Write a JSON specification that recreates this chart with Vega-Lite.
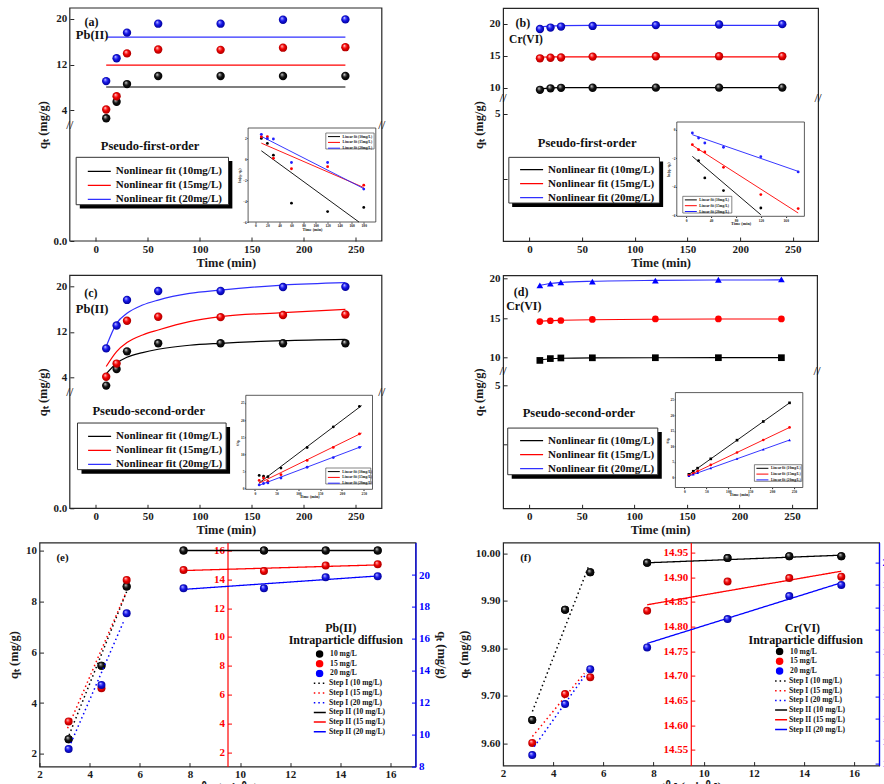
{
  "$schema": "https://vega.github.io/schema/vega-lite/v6.json",
  "background": "white",
  "padding": {"left": 6.5, "top": 7, "right": 0, "bottom": 0},
  "config": {
    "view": {"stroke": "#262626", "strokeWidth": 1.2},
    "font": "Liberation Serif",
    "axis": {"labelFont": "Liberation Serif", "labelFontWeight": "bold", "labelFontSize": 11, "labelColor": "#1a1a1a", "titleFont": "Liberation Serif", "titleFontWeight": "bold", "titleFontSize": 12.5, "titleColor": "#1a1a1a", "tickColor": "#262626", "grid": false, "labelFlush": false, "labelOverlap": false},
    "legend": {"labelFont": "Liberation Serif", "labelFontWeight": "bold", "labelColor": "#111111", "labelLimit": 0},
    "text": {"font": "Liberation Serif", "fontWeight": "bold", "color": "#111111"}
  },
  "datasets": {
    "kin": [
      {"m": "Pb", "c": "10", "t": 10, "r": 3.162, "q": 2.58}, {"m": "Pb", "c": "10", "t": 20, "r": 4.472, "q": 5.47}, {"m": "Pb", "c": "10", "t": 30, "r": 5.477, "q": 8.58}, {"m": "Pb", "c": "10", "t": 60, "r": 7.746, "q": 10.0}, {"m": "Pb", "c": "10", "t": 120, "r": 10.954, "q": 10.0}, {"m": "Pb", "c": "10", "t": 180, "r": 13.416, "q": 10.0}, {"m": "Pb", "c": "10", "t": 240, "r": 15.492, "q": 10.0},
      {"m": "Pb", "c": "15", "t": 10, "r": 3.162, "q": 4.13}, {"m": "Pb", "c": "15", "t": 20, "r": 4.472, "q": 6.44}, {"m": "Pb", "c": "15", "t": 30, "r": 5.477, "q": 13.96}, {"m": "Pb", "c": "15", "t": 60, "r": 7.746, "q": 14.65}, {"m": "Pb", "c": "15", "t": 120, "r": 10.954, "q": 14.58}, {"m": "Pb", "c": "15", "t": 180, "r": 13.416, "q": 14.96}, {"m": "Pb", "c": "15", "t": 240, "r": 15.492, "q": 15.05},
      {"m": "Pb", "c": "20", "t": 10, "r": 3.162, "q": 9.1}, {"m": "Pb", "c": "20", "t": 20, "r": 4.472, "q": 13.11}, {"m": "Pb", "c": "20", "t": 30, "r": 5.477, "q": 17.6}, {"m": "Pb", "c": "20", "t": 60, "r": 7.746, "q": 19.17}, {"m": "Pb", "c": "20", "t": 120, "r": 10.954, "q": 19.17}, {"m": "Pb", "c": "20", "t": 180, "r": 13.416, "q": 19.86}, {"m": "Pb", "c": "20", "t": 240, "r": 15.492, "q": 19.92},
      {"m": "Cr", "c": "10", "t": 10, "r": 3.162, "q": 9.649}, {"m": "Cr", "c": "10", "t": 20, "r": 4.472, "q": 9.881}, {"m": "Cr", "c": "10", "t": 30, "r": 5.477, "q": 9.96}, {"m": "Cr", "c": "10", "t": 60, "r": 7.746, "q": 9.98}, {"m": "Cr", "c": "10", "t": 120, "r": 10.954, "q": 9.99}, {"m": "Cr", "c": "10", "t": 180, "r": 13.416, "q": 9.994}, {"m": "Cr", "c": "10", "t": 240, "r": 15.492, "q": 9.994},
      {"m": "Cr", "c": "15", "t": 10, "r": 3.162, "q": 14.564}, {"m": "Cr", "c": "15", "t": 20, "r": 4.472, "q": 14.663}, {"m": "Cr", "c": "15", "t": 30, "r": 5.477, "q": 14.697}, {"m": "Cr", "c": "15", "t": 60, "r": 7.746, "q": 14.832}, {"m": "Cr", "c": "15", "t": 120, "r": 10.954, "q": 14.891}, {"m": "Cr", "c": "15", "t": 180, "r": 13.416, "q": 14.898}, {"m": "Cr", "c": "15", "t": 240, "r": 15.492, "q": 14.901},
      {"m": "Cr", "c": "20", "t": 10, "r": 3.162, "q": 19.137}, {"m": "Cr", "c": "20", "t": 20, "r": 4.472, "q": 19.366}, {"m": "Cr", "c": "20", "t": 30, "r": 5.477, "q": 19.522}, {"m": "Cr", "c": "20", "t": 60, "r": 7.746, "q": 19.62}, {"m": "Cr", "c": "20", "t": 120, "r": 10.954, "q": 19.747}, {"m": "Cr", "c": "20", "t": 180, "r": 13.416, "q": 19.85}, {"m": "Cr", "c": "20", "t": 240, "r": 15.492, "q": 19.9}
    ],
    "pfo": [
      {"m": "Pb", "fit": "Nonlinear fit (10mg/L)", "t": 10, "q": 8.07}, {"m": "Pb", "fit": "Nonlinear fit (10mg/L)", "t": 240, "q": 8.07},
      {"m": "Pb", "fit": "Nonlinear fit (15mg/L)", "t": 10, "q": 11.9}, {"m": "Pb", "fit": "Nonlinear fit (15mg/L)", "t": 240, "q": 11.9},
      {"m": "Pb", "fit": "Nonlinear fit (20mg/L)", "t": 10, "q": 16.8}, {"m": "Pb", "fit": "Nonlinear fit (20mg/L)", "t": 240, "q": 16.8},
      {"m": "Cr", "fit": "Nonlinear fit (10mg/L)", "t": 10, "q": 9.74}, {"m": "Cr", "fit": "Nonlinear fit (10mg/L)", "t": 20, "q": 9.95}, {"m": "Cr", "fit": "Nonlinear fit (10mg/L)", "t": 30, "q": 9.99}, {"m": "Cr", "fit": "Nonlinear fit (10mg/L)", "t": 60, "q": 10.0}, {"m": "Cr", "fit": "Nonlinear fit (10mg/L)", "t": 240, "q": 10.0},
      {"m": "Cr", "fit": "Nonlinear fit (15mg/L)", "t": 10, "q": 14.74}, {"m": "Cr", "fit": "Nonlinear fit (15mg/L)", "t": 20, "q": 14.78}, {"m": "Cr", "fit": "Nonlinear fit (15mg/L)", "t": 30, "q": 14.8}, {"m": "Cr", "fit": "Nonlinear fit (15mg/L)", "t": 60, "q": 14.8}, {"m": "Cr", "fit": "Nonlinear fit (15mg/L)", "t": 240, "q": 14.8},
      {"m": "Cr", "fit": "Nonlinear fit (20mg/L)", "t": 10, "q": 19.44}, {"m": "Cr", "fit": "Nonlinear fit (20mg/L)", "t": 20, "q": 19.62}, {"m": "Cr", "fit": "Nonlinear fit (20mg/L)", "t": 30, "q": 19.68}, {"m": "Cr", "fit": "Nonlinear fit (20mg/L)", "t": 60, "q": 19.71}, {"m": "Cr", "fit": "Nonlinear fit (20mg/L)", "t": 240, "q": 19.72}
    ],
    "pso": [
      {"m": "Pb", "fit": "Nonlinear fit (10mg/L)", "t": 10, "q": 4.63}, {"m": "Pb", "fit": "Nonlinear fit (10mg/L)", "t": 20, "q": 6.5}, {"m": "Pb", "fit": "Nonlinear fit (10mg/L)", "t": 30, "q": 7.55}, {"m": "Pb", "fit": "Nonlinear fit (10mg/L)", "t": 45, "q": 8.37}, {"m": "Pb", "fit": "Nonlinear fit (10mg/L)", "t": 60, "q": 8.95}, {"m": "Pb", "fit": "Nonlinear fit (10mg/L)", "t": 90, "q": 9.65}, {"m": "Pb", "fit": "Nonlinear fit (10mg/L)", "t": 120, "q": 10.0}, {"m": "Pb", "fit": "Nonlinear fit (10mg/L)", "t": 180, "q": 10.47}, {"m": "Pb", "fit": "Nonlinear fit (10mg/L)", "t": 240, "q": 10.7},
      {"m": "Pb", "fit": "Nonlinear fit (15mg/L)", "t": 10, "q": 5.92}, {"m": "Pb", "fit": "Nonlinear fit (15mg/L)", "t": 20, "q": 8.54}, {"m": "Pb", "fit": "Nonlinear fit (15mg/L)", "t": 30, "q": 10.12}, {"m": "Pb", "fit": "Nonlinear fit (15mg/L)", "t": 45, "q": 11.46}, {"m": "Pb", "fit": "Nonlinear fit (15mg/L)", "t": 60, "q": 12.33}, {"m": "Pb", "fit": "Nonlinear fit (15mg/L)", "t": 90, "q": 13.8}, {"m": "Pb", "fit": "Nonlinear fit (15mg/L)", "t": 120, "q": 14.67}, {"m": "Pb", "fit": "Nonlinear fit (15mg/L)", "t": 180, "q": 15.37}, {"m": "Pb", "fit": "Nonlinear fit (15mg/L)", "t": 240, "q": 15.95},
      {"m": "Pb", "fit": "Nonlinear fit (20mg/L)", "t": 10, "q": 9.42}, {"m": "Pb", "fit": "Nonlinear fit (20mg/L)", "t": 20, "q": 13.5}, {"m": "Pb", "fit": "Nonlinear fit (20mg/L)", "t": 30, "q": 15.25}, {"m": "Pb", "fit": "Nonlinear fit (20mg/L)", "t": 45, "q": 16.7}, {"m": "Pb", "fit": "Nonlinear fit (20mg/L)", "t": 60, "q": 17.58}, {"m": "Pb", "fit": "Nonlinear fit (20mg/L)", "t": 90, "q": 18.75}, {"m": "Pb", "fit": "Nonlinear fit (20mg/L)", "t": 120, "q": 19.33}, {"m": "Pb", "fit": "Nonlinear fit (20mg/L)", "t": 180, "q": 20.2}, {"m": "Pb", "fit": "Nonlinear fit (20mg/L)", "t": 240, "q": 20.62},
      {"m": "Cr", "fit": "Nonlinear fit (10mg/L)", "t": 10, "q": 9.72}, {"m": "Cr", "fit": "Nonlinear fit (10mg/L)", "t": 20, "q": 9.87}, {"m": "Cr", "fit": "Nonlinear fit (10mg/L)", "t": 30, "q": 9.93}, {"m": "Cr", "fit": "Nonlinear fit (10mg/L)", "t": 60, "q": 9.97}, {"m": "Cr", "fit": "Nonlinear fit (10mg/L)", "t": 120, "q": 9.99}, {"m": "Cr", "fit": "Nonlinear fit (10mg/L)", "t": 180, "q": 10.0}, {"m": "Cr", "fit": "Nonlinear fit (10mg/L)", "t": 240, "q": 10.0},
      {"m": "Cr", "fit": "Nonlinear fit (15mg/L)", "t": 10, "q": 14.6}, {"m": "Cr", "fit": "Nonlinear fit (15mg/L)", "t": 20, "q": 14.68}, {"m": "Cr", "fit": "Nonlinear fit (15mg/L)", "t": 30, "q": 14.72}, {"m": "Cr", "fit": "Nonlinear fit (15mg/L)", "t": 60, "q": 14.8}, {"m": "Cr", "fit": "Nonlinear fit (15mg/L)", "t": 120, "q": 14.86}, {"m": "Cr", "fit": "Nonlinear fit (15mg/L)", "t": 180, "q": 14.88}, {"m": "Cr", "fit": "Nonlinear fit (15mg/L)", "t": 240, "q": 14.89},
      {"m": "Cr", "fit": "Nonlinear fit (20mg/L)", "t": 10, "q": 19.16}, {"m": "Cr", "fit": "Nonlinear fit (20mg/L)", "t": 20, "q": 19.38}, {"m": "Cr", "fit": "Nonlinear fit (20mg/L)", "t": 30, "q": 19.5}, {"m": "Cr", "fit": "Nonlinear fit (20mg/L)", "t": 60, "q": 19.66}, {"m": "Cr", "fit": "Nonlinear fit (20mg/L)", "t": 120, "q": 19.77}, {"m": "Cr", "fit": "Nonlinear fit (20mg/L)", "t": 180, "q": 19.81}, {"m": "Cr", "fit": "Nonlinear fit (20mg/L)", "t": 240, "q": 19.83}
    ],
    "pfol": [
      {"m": "Pb", "fit": "Linear fit (10mg/L)", "t": 10, "y": 0.82}, {"m": "Pb", "fit": "Linear fit (10mg/L)", "t": 172, "y": -6},
      {"m": "Pb", "fit": "Linear fit (15mg/L)", "t": 10, "y": 1.55}, {"m": "Pb", "fit": "Linear fit (15mg/L)", "t": 180, "y": -2.7},
      {"m": "Pb", "fit": "Linear fit (20mg/L)", "t": 10, "y": 2.2}, {"m": "Pb", "fit": "Linear fit (20mg/L)", "t": 180, "y": -2.8},
      {"m": "Cr", "fit": "Linear fit (10mg/L)", "t": 10, "y": -1.87}, {"m": "Cr", "fit": "Linear fit (10mg/L)", "t": 120, "y": -5.96},
      {"m": "Cr", "fit": "Linear fit (15mg/L)", "t": 10, "y": -1.09}, {"m": "Cr", "fit": "Linear fit (15mg/L)", "t": 180, "y": -5.84},
      {"m": "Cr", "fit": "Linear fit (20mg/L)", "t": 10, "y": -0.35}, {"m": "Cr", "fit": "Linear fit (20mg/L)", "t": 180, "y": -2.92}
    ],
    "pfop": [
      {"m": "Pb", "c": "10", "t": 10, "y": 2.0}, {"m": "Pb", "c": "10", "t": 20, "y": 1.52}, {"m": "Pb", "c": "10", "t": 30, "y": 0.4}, {"m": "Pb", "c": "10", "t": 60, "y": -4.2}, {"m": "Pb", "c": "10", "t": 120, "y": -5.0}, {"m": "Pb", "c": "10", "t": 180, "y": -4.6},
      {"m": "Pb", "c": "15", "t": 10, "y": 2.16}, {"m": "Pb", "c": "15", "t": 20, "y": 2.16}, {"m": "Pb", "c": "15", "t": 30, "y": 0.1}, {"m": "Pb", "c": "15", "t": 60, "y": -0.9}, {"m": "Pb", "c": "15", "t": 120, "y": -0.7}, {"m": "Pb", "c": "15", "t": 180, "y": -2.47},
      {"m": "Pb", "c": "20", "t": 10, "y": 2.39}, {"m": "Pb", "c": "20", "t": 20, "y": 1.97}, {"m": "Pb", "c": "20", "t": 30, "y": 1.95}, {"m": "Pb", "c": "20", "t": 60, "y": -0.3}, {"m": "Pb", "c": "20", "t": 120, "y": -0.3}, {"m": "Pb", "c": "20", "t": 180, "y": -2.85},
      {"m": "Cr", "c": "10", "t": 20, "y": -2.17}, {"m": "Cr", "c": "10", "t": 30, "y": -3.38}, {"m": "Cr", "c": "10", "t": 60, "y": -4.27}, {"m": "Cr", "c": "10", "t": 120, "y": -5.49},
      {"m": "Cr", "c": "15", "t": 10, "y": -1.05}, {"m": "Cr", "c": "15", "t": 20, "y": -1.4}, {"m": "Cr", "c": "15", "t": 30, "y": -1.56}, {"m": "Cr", "c": "15", "t": 60, "y": -2.64}, {"m": "Cr", "c": "15", "t": 120, "y": -4.55}, {"m": "Cr", "c": "15", "t": 180, "y": -5.53},
      {"m": "Cr", "c": "20", "t": 10, "y": -0.23}, {"m": "Cr", "c": "20", "t": 20, "y": -0.58}, {"m": "Cr", "c": "20", "t": 30, "y": -0.93}, {"m": "Cr", "c": "20", "t": 60, "y": -1.23}, {"m": "Cr", "c": "20", "t": 120, "y": -1.89}, {"m": "Cr", "c": "20", "t": 180, "y": -2.96}
    ],
    "psol": [
      {"m": "Pb", "fit": "Linear fit (10mg/L)", "t": 10, "y": 1.7}, {"m": "Pb", "fit": "Linear fit (10mg/L)", "t": 245, "y": 24.2},
      {"m": "Pb", "fit": "Linear fit (15mg/L)", "t": 10, "y": 1.6}, {"m": "Pb", "fit": "Linear fit (15mg/L)", "t": 245, "y": 16.2},
      {"m": "Pb", "fit": "Linear fit (20mg/L)", "t": 10, "y": 1.0}, {"m": "Pb", "fit": "Linear fit (20mg/L)", "t": 245, "y": 12.3},
      {"m": "Cr", "fit": "Linear fit (10mg/L)", "t": 10, "y": 1.0}, {"m": "Cr", "fit": "Linear fit (10mg/L)", "t": 240, "y": 24.0},
      {"m": "Cr", "fit": "Linear fit (15mg/L)", "t": 10, "y": 0.68}, {"m": "Cr", "fit": "Linear fit (15mg/L)", "t": 240, "y": 16.1},
      {"m": "Cr", "fit": "Linear fit (20mg/L)", "t": 10, "y": 0.5}, {"m": "Cr", "fit": "Linear fit (20mg/L)", "t": 240, "y": 12.05}
    ],
    "psop": [
      {"m": "Pb", "c": "10", "t": 10, "y": 3.88}, {"m": "Pb", "c": "10", "t": 20, "y": 3.66}, {"m": "Pb", "c": "10", "t": 30, "y": 3.5}, {"m": "Pb", "c": "10", "t": 60, "y": 6.0}, {"m": "Pb", "c": "10", "t": 120, "y": 12.0}, {"m": "Pb", "c": "10", "t": 180, "y": 18.0}, {"m": "Pb", "c": "10", "t": 240, "y": 24.0},
      {"m": "Pb", "c": "15", "t": 10, "y": 2.42}, {"m": "Pb", "c": "15", "t": 20, "y": 3.11}, {"m": "Pb", "c": "15", "t": 30, "y": 2.15}, {"m": "Pb", "c": "15", "t": 60, "y": 4.1}, {"m": "Pb", "c": "15", "t": 120, "y": 8.23}, {"m": "Pb", "c": "15", "t": 180, "y": 12.03}, {"m": "Pb", "c": "15", "t": 240, "y": 15.95},
      {"m": "Pb", "c": "20", "t": 10, "y": 1.1}, {"m": "Pb", "c": "20", "t": 20, "y": 1.53}, {"m": "Pb", "c": "20", "t": 30, "y": 1.7}, {"m": "Pb", "c": "20", "t": 60, "y": 3.13}, {"m": "Pb", "c": "20", "t": 120, "y": 6.26}, {"m": "Pb", "c": "20", "t": 180, "y": 9.06}, {"m": "Pb", "c": "20", "t": 240, "y": 12.05},
      {"m": "Cr", "c": "10", "t": 10, "y": 1.04}, {"m": "Cr", "c": "10", "t": 20, "y": 2.02}, {"m": "Cr", "c": "10", "t": 30, "y": 3.01}, {"m": "Cr", "c": "10", "t": 60, "y": 6.01}, {"m": "Cr", "c": "10", "t": 120, "y": 12.01}, {"m": "Cr", "c": "10", "t": 180, "y": 18.01}, {"m": "Cr", "c": "10", "t": 240, "y": 24.01},
      {"m": "Cr", "c": "15", "t": 10, "y": 0.69}, {"m": "Cr", "c": "15", "t": 20, "y": 1.36}, {"m": "Cr", "c": "15", "t": 30, "y": 2.04}, {"m": "Cr", "c": "15", "t": 60, "y": 4.05}, {"m": "Cr", "c": "15", "t": 120, "y": 8.06}, {"m": "Cr", "c": "15", "t": 180, "y": 12.08}, {"m": "Cr", "c": "15", "t": 240, "y": 16.11},
      {"m": "Cr", "c": "20", "t": 10, "y": 0.52}, {"m": "Cr", "c": "20", "t": 20, "y": 1.03}, {"m": "Cr", "c": "20", "t": 30, "y": 1.54}, {"m": "Cr", "c": "20", "t": 60, "y": 3.06}, {"m": "Cr", "c": "20", "t": 120, "y": 6.08}, {"m": "Cr", "c": "20", "t": 180, "y": 9.07}, {"m": "Cr", "c": "20", "t": 240, "y": 12.06}
    ],
    "ipdfit": [
      {"m": "Pb", "key": "Step I (10 mg/L)", "r": 3.18, "q": 2.74}, {"m": "Pb", "key": "Step I (10 mg/L)", "r": 5.48, "q": 8.39},
      {"m": "Pb", "key": "Step I (15 mg/L)", "r": 3.12, "q": 3.66}, {"m": "Pb", "key": "Step I (15 mg/L)", "r": 5.44, "q": 13.03},
      {"m": "Pb", "key": "Step I (20 mg/L)", "r": 3.25, "q": 9.46}, {"m": "Pb", "key": "Step I (20 mg/L)", "r": 5.37, "q": 17.14},
      {"m": "Pb", "key": "Step II (10 mg/L)", "r": 7.75, "q": 10.0}, {"m": "Pb", "key": "Step II (10 mg/L)", "r": 15.49, "q": 10.0},
      {"m": "Pb", "key": "Step II (15 mg/L)", "r": 7.75, "q": 14.61}, {"m": "Pb", "key": "Step II (15 mg/L)", "r": 15.49, "q": 15.0},
      {"m": "Pb", "key": "Step II (20 mg/L)", "r": 7.75, "q": 19.1}, {"m": "Pb", "key": "Step II (20 mg/L)", "r": 15.49, "q": 19.94},
      {"m": "Cr", "key": "Step I (10 mg/L)", "r": 3.17, "q": 9.667}, {"m": "Cr", "key": "Step I (10 mg/L)", "r": 5.43, "q": 9.975},
      {"m": "Cr", "key": "Step I (15 mg/L)", "r": 3.17, "q": 14.577}, {"m": "Cr", "key": "Step I (15 mg/L)", "r": 5.24, "q": 14.705},
      {"m": "Cr", "key": "Step I (20 mg/L)", "r": 3.24, "q": 19.175}, {"m": "Cr", "key": "Step I (20 mg/L)", "r": 5.33, "q": 19.504},
      {"m": "Cr", "key": "Step II (10 mg/L)", "r": 7.75, "q": 9.98}, {"m": "Cr", "key": "Step II (10 mg/L)", "r": 15.49, "q": 9.996},
      {"m": "Cr", "key": "Step II (15 mg/L)", "r": 7.75, "q": 14.844}, {"m": "Cr", "key": "Step II (15 mg/L)", "r": 15.49, "q": 14.912},
      {"m": "Cr", "key": "Step II (20 mg/L)", "r": 7.75, "q": 19.638}, {"m": "Cr", "key": "Step II (20 mg/L)", "r": 15.49, "q": 19.91}
    ]
  },
  "columns": 2,
  "align": "none",
  "bounds": "flush",
  "spacing": {"row": 34.3, "column": 57.6},
  "resolve": {"scale": {"x": "independent", "y": "independent", "color": "independent", "fill": "independent", "shape": "independent", "strokeDash": "independent"}},
  "concat": [
    {
      "width": 405.7, "height": 233,
      "view": {"stroke": null},
      "resolve": {"scale": {"x": "independent", "y": "independent", "color": "independent"}},
      "layer": [
        {
          "layer": [
            {"data": {"values": [{}]}, "mark": {"type": "rect", "fill": "transparent", "stroke": "#262626", "strokeWidth": 1.2}, "encoding": {"x": {"datum": -25}, "x2": {"datum": 275}, "y": {"datum": 0}, "y2": {"datum": 21.92}}},
            {"data": {"values": [{}]}, "mark": {"type": "rect", "fill": "#000000"}, "encoding": {"x": {"datum": -15.4}, "x2": {"datum": 131.3}, "y": {"datum": 0.704}, "y2": {"datum": 0.286}}},
            {"data": {"values": [{}]}, "mark": {"type": "rect", "fill": "#ffffff", "stroke": "#333333", "strokeWidth": 1}, "encoding": {"x": {"datum": -18.9}, "x2": {"datum": 127.6}, "y": {"datum": 0.736}, "y2": {"datum": 0.319}}},
            {
              "encoding": {
                "x": {"field": "t", "type": "quantitative", "scale": {"domain": [-25, 275], "range": [30.3, 342.3], "nice": false, "zero": false}, "axis": {"orient": "bottom", "title": "Time (min)", "values": [0, 50, 100, 150, 200, 250], "domain": false, "tickSize": -4, "labelPadding": 6, "titlePadding": 2, "labelOverlap": false}},
                "y": {"field": "q", "type": "quantitative", "scale": {"domain": [0, 1, 21.92], "range": [233, 119.3, 0], "nice": false, "zero": false}, "axis": {"orient": "left", "offset": -30.3, "title": "qₜ (mg/g)", "values": [0, 0.4, 0.8, 2, 4, 6, 8, 10, 12, 14, 16, 18, 20], "labelExpr": "datum.value < 1.5 ? format(datum.value, '.1f') : format(datum.value, 'd')", "domain": false, "tickSize": -4, "labelPadding": 7, "titlePadding": 4, "labelOverlap": false}}
              },
              "layer": [
                {"data": {"name": "pfo"}, "transform": [{"filter": "datum.m == 'Pb'"}], "mark": {"type": "line", "strokeWidth": 1.2},
                  "encoding": {"color": {"field": "fit", "type": "nominal", "scale": {"domain": ["Nonlinear fit (10mg/L)", "Nonlinear fit (15mg/L)", "Nonlinear fit (20mg/L)"], "range": ["#000000", "#ff0000", "#3030ff"]},
                    "legend": {"orient": "none", "legendX": 47.3, "legendY": 157.8, "title": null, "padding": 0, "symbolType": "stroke", "symbolSize": 529, "symbolStrokeWidth": 1.2, "labelFontSize": 11, "clipHeight": 11, "rowPadding": 2, "labelOffset": 4}}}},
                {"data": {"name": "kin"}, "transform": [{"filter": "datum.m == 'Pb'"}], "mark": {"type": "point", "filled": true, "size": 70, "opacity": 1, "strokeWidth": 0},
                  "encoding": {"fill": {"condition": [
                    {"test": "datum.c == '10'", "value": {"gradient": "radial", "x1": 0.35, "y1": 0.3, "r1": 0, "x2": 0.5, "y2": 0.5, "r2": 0.55, "stops": [{"offset": 0, "color": "#ffffff"}, {"offset": 0.22, "color": "#7a7a7a"}, {"offset": 0.5, "color": "#121212"}, {"offset": 1, "color": "#000000"}]}},
                    {"test": "datum.c == '15'", "value": {"gradient": "radial", "x1": 0.35, "y1": 0.3, "r1": 0, "x2": 0.5, "y2": 0.5, "r2": 0.55, "stops": [{"offset": 0, "color": "#ffffff"}, {"offset": 0.2, "color": "#ff7070"}, {"offset": 0.5, "color": "#f20000"}, {"offset": 1, "color": "#a00000"}]}}],
                    "value": {"gradient": "radial", "x1": 0.35, "y1": 0.3, "r1": 0, "x2": 0.5, "y2": 0.5, "r2": 0.55, "stops": [{"offset": 0, "color": "#ffffff"}, {"offset": 0.2, "color": "#7070ff"}, {"offset": 0.5, "color": "#1414e6"}, {"offset": 1, "color": "#00008c"}]}}}}
              ]
            },
            {"data": {"values": [{}]}, "mark": {"type": "text", "text": "(a)", "fontSize": 12}, "encoding": {"x": {"datum": -4.1}, "y": {"datum": 19.41}}},
            {"data": {"values": [{}]}, "mark": {"type": "text", "text": "Pb(II)", "fontSize": 12.5, "align": "left"}, "encoding": {"x": {"datum": -19.2}, "y": {"datum": 17.24}}},
            {"data": {"values": [{}]}, "mark": {"type": "text", "text": "Pseudo-first-order", "fontSize": 12.5, "align": "left"}, "encoding": {"x": {"datum": 4.8}, "y": {"datum": 0.838}}},
            {"data": {"values": [{}]}, "mark": {"type": "text", "text": "//", "fontSize": 13, "fontWeight": "normal"}, "encoding": {"x": {"datum": -25}, "y": {"datum": 1.4}}},
            {"data": {"values": [{}]}, "mark": {"type": "text", "text": "//", "fontSize": 13, "fontWeight": "normal"}, "encoding": {"x": {"datum": 275}, "y": {"datum": 1.4}}}
          ]
        },
        {
          "layer": [
            {"data": {"values": [{}]}, "mark": {"type": "rect", "fill": "#ffffff", "stroke": "#333333", "strokeWidth": 0.8}, "encoding": {"x": {"datum": -12}, "x2": {"datum": 200}, "y": {"datum": -6}, "y2": {"datum": 3}}},
            {"data": {"values": [{}]}, "mark": {"type": "rect", "fill": "#ffffff", "stroke": "#333333", "strokeWidth": 0.6}, "encoding": {"x": {"datum": 117}, "x2": {"datum": 197.2}, "y": {"datum": 2.52}, "y2": {"datum": 0.99}}},
            {
              "encoding": {
                "x": {"field": "t", "type": "quantitative", "scale": {"domain": [-12, 200], "range": [208.6, 336.3], "nice": false, "zero": false}, "axis": {"orient": "bottom", "offset": -19, "values": [0, 20, 40, 60, 80, 100, 120, 140, 160, 180], "title": "Time (min)", "titleFontSize": 4.2, "titlePadding": 0, "labelFontSize": 3.6, "labelPadding": 0.6, "tickSize": 1.2, "domain": false, "labelOverlap": false}},
                "y": {"field": "y", "type": "quantitative", "scale": {"domain": [-6, 3], "range": [214, 120], "nice": false, "zero": false}, "axis": {"orient": "left", "offset": -208.6, "values": [-6, -5, -4, -3, -2, -1, 0, 1, 2], "title": "ln(qₑ-qₜ)", "titleFontSize": 4.2, "titlePadding": 0.5, "labelFontSize": 3.6, "labelPadding": 0.6, "tickSize": 1.2, "domain": false, "labelOverlap": false}}
              },
              "layer": [
                {"data": {"name": "pfol"}, "transform": [{"filter": "datum.m == 'Pb'"}], "mark": {"type": "line", "strokeWidth": 0.9},
                  "encoding": {"color": {"field": "fit", "type": "nominal", "scale": {"domain": ["Linear fit (10mg/L)", "Linear fit (15mg/L)", "Linear fit (20mg/L)"], "range": ["#000000", "#ff0000", "#2020ff"]},
                    "legend": {"orient": "none", "legendX": 288, "legendY": 126.5, "title": null, "padding": 0, "symbolType": "stroke", "symbolSize": 144, "symbolStrokeWidth": 1, "labelFontSize": 3.6, "clipHeight": 4.2, "rowPadding": 0.8, "labelOffset": 2}}}},
                {"data": {"name": "pfop"}, "transform": [{"filter": "datum.m == 'Pb'"}], "mark": {"type": "point", "filled": true, "size": 8, "opacity": 1, "strokeWidth": 0},
                  "encoding": {"fill": {"field": "c", "type": "nominal", "scale": {"domain": ["10", "15", "20"], "range": ["#000000", "#ff0000", "#2020ff"]}, "legend": null}}}
              ]
            }
          ]
        }
      ]
    },
    {
      "width": 315, "height": 233,
      "resolve": {"scale": {"x": "independent", "y": "independent", "color": "independent"}},
      "layer": [
        {
          "layer": [
            {"data": {"values": [{}]}, "mark": {"type": "rect", "fill": "#000000"}, "encoding": {"x": {"datum": -16.4}, "x2": {"datum": 126.9}, "y": {"datum": 3.16}, "y2": {"datum": 1.4}}},
            {"data": {"values": [{}]}, "mark": {"type": "rect", "fill": "#ffffff", "stroke": "#333333", "strokeWidth": 1}, "encoding": {"x": {"datum": -19.55}, "x2": {"datum": 123.4}, "y": {"datum": 3.32}, "y2": {"datum": 1.55}}},
            {
              "encoding": {
                "x": {"field": "t", "type": "quantitative", "scale": {"domain": [-25, 274], "nice": false, "zero": false}, "axis": {"orient": "bottom", "title": "Time (min)", "values": [0, 50, 100, 150, 200, 250], "domain": false, "tickSize": -4, "labelPadding": 6, "titlePadding": 2, "labelOverlap": false}},
                "y": {"field": "q", "type": "quantitative", "scale": {"domain": [0.08, 5.6, 8.45, 22.42], "range": [233, 90.5, 89.5, 0], "nice": false, "zero": false}, "axis": {"orient": "left", "title": "qₜ (mg/g)", "values": [2.5, 5, 10, 15, 20], "labelExpr": "datum.value < 3 ? '' : format(datum.value, 'd')", "domain": false, "tickSize": -4, "labelPadding": 7, "titlePadding": 4, "labelOverlap": false}}
              },
              "layer": [
                {"data": {"name": "pfo"}, "transform": [{"filter": "datum.m == 'Cr'"}], "mark": {"type": "line", "strokeWidth": 1.2, "interpolate": "monotone"},
                  "encoding": {"color": {"field": "fit", "type": "nominal", "scale": {"domain": ["Nonlinear fit (10mg/L)", "Nonlinear fit (15mg/L)", "Nonlinear fit (20mg/L)"], "range": ["#000000", "#ff0000", "#3030ff"]},
                    "legend": {"orient": "none", "legendX": 16, "legendY": 156.2, "title": null, "padding": 0, "symbolType": "stroke", "symbolSize": 529, "symbolStrokeWidth": 1.2, "labelFontSize": 11, "clipHeight": 11, "rowPadding": 2, "labelOffset": 4}}}},
                {"data": {"name": "kin"}, "transform": [{"filter": "datum.m == 'Cr'"}], "mark": {"type": "point", "filled": true, "size": 70, "opacity": 1, "strokeWidth": 0},
                  "encoding": {"fill": {"condition": [
                    {"test": "datum.c == '10'", "value": {"gradient": "radial", "x1": 0.35, "y1": 0.3, "r1": 0, "x2": 0.5, "y2": 0.5, "r2": 0.55, "stops": [{"offset": 0, "color": "#ffffff"}, {"offset": 0.22, "color": "#7a7a7a"}, {"offset": 0.5, "color": "#121212"}, {"offset": 1, "color": "#000000"}]}},
                    {"test": "datum.c == '15'", "value": {"gradient": "radial", "x1": 0.35, "y1": 0.3, "r1": 0, "x2": 0.5, "y2": 0.5, "r2": 0.55, "stops": [{"offset": 0, "color": "#ffffff"}, {"offset": 0.2, "color": "#ff7070"}, {"offset": 0.5, "color": "#f20000"}, {"offset": 1, "color": "#a00000"}]}}],
                    "value": {"gradient": "radial", "x1": 0.35, "y1": 0.3, "r1": 0, "x2": 0.5, "y2": 0.5, "r2": 0.55, "stops": [{"offset": 0, "color": "#ffffff"}, {"offset": 0.2, "color": "#7070ff"}, {"offset": 0.5, "color": "#1414e6"}, {"offset": 1, "color": "#00008c"}]}}}}
              ]
            },
            {"data": {"values": [{}]}, "mark": {"type": "text", "text": "(b)", "fontSize": 12}, "encoding": {"x": {"datum": -6.3}, "y": {"datum": 20.08}}},
            {"data": {"values": [{}]}, "mark": {"type": "text", "text": "Cr(VI)", "fontSize": 11.5, "align": "left"}, "encoding": {"x": {"datum": -19.3}, "y": {"datum": 17.47}}},
            {"data": {"values": [{}]}, "mark": {"type": "text", "text": "Pseudo-first-order", "fontSize": 12.5, "align": "left"}, "encoding": {"x": {"datum": 8.0}, "y": {"datum": 3.88}}},
            {"data": {"values": [{}]}, "mark": {"type": "text", "text": "//", "fontSize": 13, "fontWeight": "normal"}, "encoding": {"x": {"datum": -25}, "y": {"datum": 7}}},
            {"data": {"values": [{}]}, "mark": {"type": "text", "text": "//", "fontSize": 13, "fontWeight": "normal"}, "encoding": {"x": {"datum": 274}, "y": {"datum": 7}}}
          ]
        },
        {
          "layer": [
            {"data": {"values": [{}]}, "mark": {"type": "rect", "fill": "#ffffff", "stroke": "#333333", "strokeWidth": 0.8}, "encoding": {"x": {"datum": -15}, "x2": {"datum": 190}, "y": {"datum": -6.07}, "y2": {"datum": 0.54}}},
            {"data": {"values": [{}]}, "mark": {"type": "rect", "fill": "#ffffff", "stroke": "#333333", "strokeWidth": 0.6}, "encoding": {"x": {"datum": -5.4}, "x2": {"datum": 73.4}, "y": {"datum": -4.67}, "y2": {"datum": -5.84}}},
            {
              "encoding": {
                "x": {"field": "t", "type": "quantitative", "scale": {"domain": [-15, 190], "range": [173.7, 301.3], "nice": false, "zero": false}, "axis": {"orient": "bottom", "offset": -24.7, "values": [0, 20, 40, 60, 80, 100, 120, 140, 160, 180], "title": "Time (min)", "titleFontSize": 4.2, "titlePadding": 0, "labelFontSize": 3.6, "labelPadding": 0.6, "tickSize": 1.2, "domain": false, "labelOverlap": false}},
                "y": {"field": "y", "type": "quantitative", "scale": {"domain": [-6.07, 0.54], "range": [208.3, 114], "nice": false, "zero": false}, "axis": {"orient": "left", "offset": -173.7, "values": [-6, -5, -4, -3, -2, -1, 0], "title": "ln(qₑ-qₜ)", "titleFontSize": 4.2, "titlePadding": 0.5, "labelFontSize": 3.6, "labelPadding": 0.6, "tickSize": 1.2, "domain": false, "labelOverlap": false}}
              },
              "layer": [
                {"data": {"name": "pfol"}, "transform": [{"filter": "datum.m == 'Cr'"}], "mark": {"type": "line", "strokeWidth": 0.9},
                  "encoding": {"color": {"field": "fit", "type": "nominal", "scale": {"domain": ["Linear fit (10mg/L)", "Linear fit (15mg/L)", "Linear fit (20mg/L)"], "range": ["#000000", "#ff0000", "#2020ff"]},
                    "legend": {"orient": "none", "legendX": 181.2, "legendY": 189.8, "title": null, "padding": 0, "symbolType": "stroke", "symbolSize": 144, "symbolStrokeWidth": 1, "labelFontSize": 3.6, "clipHeight": 4.2, "rowPadding": 0.8, "labelOffset": 2}}}},
                {"data": {"name": "pfop"}, "transform": [{"filter": "datum.m == 'Cr'"}], "mark": {"type": "point", "filled": true, "size": 8, "opacity": 1, "strokeWidth": 0},
                  "encoding": {"fill": {"field": "c", "type": "nominal", "scale": {"domain": ["10", "15", "20"], "range": ["#000000", "#ff0000", "#2020ff"]}, "legend": null}}}
              ]
            }
          ]
        }
      ]
    },
    {
      "width": 405.7, "height": 233,
      "view": {"stroke": null},
      "resolve": {"scale": {"x": "independent", "y": "independent", "color": "independent"}},
      "layer": [
        {
          "layer": [
            {"data": {"values": [{}]}, "mark": {"type": "rect", "fill": "transparent", "stroke": "#262626", "strokeWidth": 1.2}, "encoding": {"x": {"datum": -25}, "x2": {"datum": 275}, "y": {"datum": 0}, "y2": {"datum": 21.92}}},
            {"data": {"values": [{}]}, "mark": {"type": "rect", "fill": "#000000"}, "encoding": {"x": {"datum": -13.75}, "x2": {"datum": 129.1}, "y": {"datum": 0.715}, "y2": {"datum": 0.304}}},
            {"data": {"values": [{}]}, "mark": {"type": "rect", "fill": "#ffffff", "stroke": "#333333", "strokeWidth": 1}, "encoding": {"x": {"datum": -17.6}, "x2": {"datum": 125.3}, "y": {"datum": 0.75}, "y2": {"datum": 0.34}}},
            {
              "encoding": {
                "x": {"field": "t", "type": "quantitative", "scale": {"domain": [-25, 275], "range": [30.3, 342.3], "nice": false, "zero": false}, "axis": {"orient": "bottom", "title": "Time (min)", "values": [0, 50, 100, 150, 200, 250], "domain": false, "tickSize": -4, "labelPadding": 6, "titlePadding": 2, "labelOverlap": false}},
                "y": {"field": "q", "type": "quantitative", "scale": {"domain": [0, 1, 21.92], "range": [233, 119.3, 0], "nice": false, "zero": false}, "axis": {"orient": "left", "offset": -30.3, "title": "qₜ (mg/g)", "values": [0, 0.4, 0.8, 2, 4, 6, 8, 10, 12, 14, 16, 18, 20], "labelExpr": "datum.value < 1.5 ? format(datum.value, '.1f') : format(datum.value, 'd')", "domain": false, "tickSize": -4, "labelPadding": 7, "titlePadding": 4, "labelOverlap": false}}
              },
              "layer": [
                {"data": {"name": "pso"}, "transform": [{"filter": "datum.m == 'Pb'"}], "mark": {"type": "line", "strokeWidth": 1.2, "interpolate": "monotone"},
                  "encoding": {"color": {"field": "fit", "type": "nominal", "scale": {"domain": ["Nonlinear fit (10mg/L)", "Nonlinear fit (15mg/L)", "Nonlinear fit (20mg/L)"], "range": ["#000000", "#ff0000", "#3030ff"]},
                    "legend": {"orient": "none", "legendX": 47.6, "legendY": 155.5, "title": null, "padding": 0, "symbolType": "stroke", "symbolSize": 529, "symbolStrokeWidth": 1.2, "labelFontSize": 11, "clipHeight": 11, "rowPadding": 2, "labelOffset": 4}}}},
                {"data": {"name": "kin"}, "transform": [{"filter": "datum.m == 'Pb'"}], "mark": {"type": "point", "filled": true, "size": 70, "opacity": 1, "strokeWidth": 0},
                  "encoding": {"fill": {"condition": [
                    {"test": "datum.c == '10'", "value": {"gradient": "radial", "x1": 0.35, "y1": 0.3, "r1": 0, "x2": 0.5, "y2": 0.5, "r2": 0.55, "stops": [{"offset": 0, "color": "#ffffff"}, {"offset": 0.22, "color": "#7a7a7a"}, {"offset": 0.5, "color": "#121212"}, {"offset": 1, "color": "#000000"}]}},
                    {"test": "datum.c == '15'", "value": {"gradient": "radial", "x1": 0.35, "y1": 0.3, "r1": 0, "x2": 0.5, "y2": 0.5, "r2": 0.55, "stops": [{"offset": 0, "color": "#ffffff"}, {"offset": 0.2, "color": "#ff7070"}, {"offset": 0.5, "color": "#f20000"}, {"offset": 1, "color": "#a00000"}]}}],
                    "value": {"gradient": "radial", "x1": 0.35, "y1": 0.3, "r1": 0, "x2": 0.5, "y2": 0.5, "r2": 0.55, "stops": [{"offset": 0, "color": "#ffffff"}, {"offset": 0.2, "color": "#7070ff"}, {"offset": 0.5, "color": "#1414e6"}, {"offset": 1, "color": "#00008c"}]}}}}
              ]
            },
            {"data": {"values": [{}]}, "mark": {"type": "text", "text": "(c)", "fontSize": 12}, "encoding": {"x": {"datum": -4.8}, "y": {"datum": 18.82}}},
            {"data": {"values": [{}]}, "mark": {"type": "text", "text": "Pb(II)", "fontSize": 12.5, "align": "left"}, "encoding": {"x": {"datum": -19.2}, "y": {"datum": 16.06}}},
            {"data": {"values": [{}]}, "mark": {"type": "text", "text": "Pseudo-second-order", "fontSize": 12.5, "align": "left"}, "encoding": {"x": {"datum": -3.2}, "y": {"datum": 0.858}}},
            {"data": {"values": [{}]}, "mark": {"type": "text", "text": "//", "fontSize": 13, "fontWeight": "normal"}, "encoding": {"x": {"datum": -25}, "y": {"datum": 1.4}}},
            {"data": {"values": [{}]}, "mark": {"type": "text", "text": "//", "fontSize": 13, "fontWeight": "normal"}, "encoding": {"x": {"datum": 275}, "y": {"datum": 1.4}}}
          ]
        },
        {
          "layer": [
            {"data": {"values": [{}]}, "mark": {"type": "rect", "fill": "#ffffff", "stroke": "#333333", "strokeWidth": 0.8}, "encoding": {"x": {"datum": -20.7}, "x2": {"datum": 270}, "y": {"datum": -0.17}, "y2": {"datum": 27.2}}},
            {"data": {"values": [{}]}, "mark": {"type": "rect", "fill": "#ffffff", "stroke": "#333333", "strokeWidth": 0.6}, "encoding": {"x": {"datum": 162.8}, "x2": {"datum": 266.1}, "y": {"datum": 6.03}, "y2": {"datum": 1.37}}},
            {
              "encoding": {
                "x": {"field": "t", "type": "quantitative", "scale": {"domain": [-20.7, 270], "range": [206.3, 333], "nice": false, "zero": false}, "axis": {"orient": "bottom", "offset": -19, "values": [0, 50, 100, 150, 200, 250], "title": "Time (min)", "titleFontSize": 4.2, "titlePadding": 0, "labelFontSize": 3.6, "labelPadding": 0.6, "tickSize": 1.2, "domain": false, "labelOverlap": false}},
                "y": {"field": "y", "type": "quantitative", "scale": {"domain": [-0.17, 27.2], "range": [214, 120], "nice": false, "zero": false}, "axis": {"orient": "left", "offset": -206.3, "values": [0, 5, 10, 15, 20, 25], "title": "t/qₜ", "titleFontSize": 4.2, "titlePadding": 0.5, "labelFontSize": 3.6, "labelPadding": 0.6, "tickSize": 1.2, "domain": false, "labelOverlap": false}}
              },
              "layer": [
                {"data": {"name": "psol"}, "transform": [{"filter": "datum.m == 'Pb'"}], "mark": {"type": "line", "strokeWidth": 0.9},
                  "encoding": {"color": {"field": "fit", "type": "nominal", "scale": {"domain": ["Linear fit (10mg/L)", "Linear fit (15mg/L)", "Linear fit (20mg/L)"], "range": ["#000000", "#ff0000", "#2020ff"]},
                    "legend": {"orient": "none", "legendX": 287.8, "legendY": 194.2, "title": null, "padding": 0, "symbolType": "stroke", "symbolSize": 144, "symbolStrokeWidth": 1, "labelFontSize": 3.6, "clipHeight": 4.2, "rowPadding": 0.8, "labelOffset": 2}}}},
                {"data": {"name": "psop"}, "transform": [{"filter": "datum.m == 'Pb'"}], "mark": {"type": "point", "filled": true, "size": 8, "opacity": 1, "strokeWidth": 0},
                  "encoding": {"fill": {"field": "c", "type": "nominal", "scale": {"domain": ["10", "15", "20"], "range": ["#000000", "#ff0000", "#2020ff"]}, "legend": null}}}
              ]
            }
          ]
        }
      ]
    },
    {
      "width": 314, "height": 233,
      "resolve": {"scale": {"x": "independent", "y": "independent", "color": "independent"}},
      "layer": [
        {
          "layer": [
            {"data": {"values": [{}]}, "mark": {"type": "rect", "fill": "#000000"}, "encoding": {"x": {"datum": -16.8}, "x2": {"datum": 126.1}, "y": {"datum": 3.03}, "y2": {"datum": 1.07}}},
            {"data": {"values": [{}]}, "mark": {"type": "rect", "fill": "#ffffff", "stroke": "#333333", "strokeWidth": 1}, "encoding": {"x": {"datum": -20.6}, "x2": {"datum": 122.3}, "y": {"datum": 3.2}, "y2": {"datum": 1.235}}},
            {
              "encoding": {
                "x": {"field": "t", "type": "quantitative", "scale": {"domain": [-25, 274], "nice": false, "zero": false}, "axis": {"orient": "bottom", "title": "Time (min)", "values": [0, 50, 100, 150, 200, 250], "domain": false, "tickSize": -4, "labelPadding": 6, "titlePadding": 2, "labelOverlap": false}},
                "y": {"field": "q", "type": "quantitative", "scale": {"domain": [-0.18, 5.6, 8.375, 20.41], "range": [233, 95.8, 95.2, 0], "nice": false, "zero": false}, "axis": {"orient": "left", "title": "qₜ (mg/g)", "values": [2.5, 5, 10, 15, 20], "labelExpr": "datum.value < 3 ? '' : format(datum.value, 'd')", "domain": false, "tickSize": -4, "labelPadding": 7, "titlePadding": 4, "labelOverlap": false}}
              },
              "layer": [
                {"data": {"name": "pso"}, "transform": [{"filter": "datum.m == 'Cr'"}], "mark": {"type": "line", "strokeWidth": 1.1, "interpolate": "monotone"},
                  "encoding": {"color": {"field": "fit", "type": "nominal", "scale": {"domain": ["Nonlinear fit (10mg/L)", "Nonlinear fit (15mg/L)", "Nonlinear fit (20mg/L)"], "range": ["#000000", "#ff0000", "#3030ff"]},
                    "legend": {"orient": "none", "legendX": 16, "legendY": 159.9, "title": null, "padding": 0, "symbolType": "stroke", "symbolSize": 529, "symbolStrokeWidth": 1.2, "labelFontSize": 11, "clipHeight": 11, "rowPadding": 2, "labelOffset": 4}}}},
                {"data": {"name": "kin"}, "transform": [{"filter": "datum.m == 'Cr'"}], "mark": {"type": "point", "filled": true, "size": 45, "opacity": 1, "strokeWidth": 0},
                  "encoding": {
                    "shape": {"field": "c", "type": "nominal", "scale": {"domain": ["10", "15", "20"], "range": ["square", "circle", "triangle-up"]}, "legend": null},
                    "fill": {"field": "c", "type": "nominal", "scale": {"domain": ["10", "15", "20"], "range": ["#000000", "#ff0000", "#0000ff"]}, "legend": null}}}
              ]
            },
            {"data": {"values": [{}]}, "mark": {"type": "text", "text": "(d)", "fontSize": 12}, "encoding": {"x": {"datum": -7.9}, "y": {"datum": 18.24}}},
            {"data": {"values": [{}]}, "mark": {"type": "text", "text": "Cr(VI)", "fontSize": 12, "align": "left"}, "encoding": {"x": {"datum": -22.1}, "y": {"datum": 16.52}}},
            {"data": {"values": [{}]}, "mark": {"type": "text", "text": "Pseudo-second-order", "fontSize": 12.5, "align": "left"}, "encoding": {"x": {"datum": -6.4}, "y": {"datum": 3.83}}},
            {"data": {"values": [{}]}, "mark": {"type": "text", "text": "//", "fontSize": 13, "fontWeight": "normal"}, "encoding": {"x": {"datum": -25}, "y": {"datum": 7}}},
            {"data": {"values": [{}]}, "mark": {"type": "text", "text": "//", "fontSize": 13, "fontWeight": "normal"}, "encoding": {"x": {"datum": 274}, "y": {"datum": 7}}}
          ]
        },
        {
          "layer": [
            {"data": {"values": [{}]}, "mark": {"type": "rect", "fill": "#ffffff", "stroke": "#333333", "strokeWidth": 0.8}, "encoding": {"x": {"datum": -20.8}, "x2": {"datum": 270.3}, "y": {"datum": -3.2}, "y2": {"datum": 27.3}}},
            {"data": {"values": [{}]}, "mark": {"type": "rect", "fill": "#ffffff", "stroke": "#333333", "strokeWidth": 0.6}, "encoding": {"x": {"datum": 159.7}, "x2": {"datum": 268}, "y": {"datum": 4.13}, "y2": {"datum": -1.21}}},
            {
              "encoding": {
                "x": {"field": "t", "type": "quantitative", "scale": {"domain": [-20.8, 270.3], "range": [172.3, 299.7], "nice": false, "zero": false}, "axis": {"orient": "bottom", "offset": -20.8, "values": [0, 50, 100, 150, 200, 250], "title": "Time (min)", "titleFontSize": 4.2, "titlePadding": 0, "labelFontSize": 3.6, "labelPadding": 0.6, "tickSize": 1.2, "domain": false, "labelOverlap": false}},
                "y": {"field": "y", "type": "quantitative", "scale": {"domain": [-3.2, 27.3], "range": [212.2, 117.3], "nice": false, "zero": false}, "axis": {"orient": "left", "offset": -172.3, "values": [0, 5, 10, 15, 20, 25], "title": "t/qₜ", "titleFontSize": 4.2, "titlePadding": 0.5, "labelFontSize": 3.6, "labelPadding": 0.6, "tickSize": 1.2, "domain": false, "labelOverlap": false}}
              },
              "layer": [
                {"data": {"name": "psol"}, "transform": [{"filter": "datum.m == 'Cr'"}], "mark": {"type": "line", "strokeWidth": 0.9},
                  "encoding": {"color": {"field": "fit", "type": "nominal", "scale": {"domain": ["Linear fit (10mg/L)", "Linear fit (15mg/L)", "Linear fit (20mg/L)"], "range": ["#000000", "#ff0000", "#2020ff"]},
                    "legend": {"orient": "none", "legendX": 252.8, "legendY": 190.9, "title": null, "padding": 0, "symbolType": "stroke", "symbolSize": 144, "symbolStrokeWidth": 1, "labelFontSize": 3.6, "clipHeight": 4.2, "rowPadding": 0.8, "labelOffset": 2}}}},
                {"data": {"name": "psop"}, "transform": [{"filter": "datum.m == 'Cr'"}], "mark": {"type": "point", "filled": true, "size": 7, "opacity": 1, "strokeWidth": 0},
                  "encoding": {
                    "shape": {"field": "c", "type": "nominal", "scale": {"domain": ["10", "15", "20"], "range": ["square", "circle", "triangle-up"]}, "legend": null},
                    "fill": {"field": "c", "type": "nominal", "scale": {"domain": ["10", "15", "20"], "range": ["#000000", "#ff0000", "#2020ff"]}, "legend": null}}}
              ]
            }
          ]
        }
      ]
    },
    {
      "width": 376, "height": 224,
      "resolve": {"scale": {"y": "independent"}},
      "layer": [
        {
          "layer": [
            {
              "encoding": {
                "x": {"field": "r", "type": "quantitative", "scale": {"domain": [2, 17], "nice": false, "zero": false}, "axis": {"orient": "bottom", "title": "t⁰·⁵ (min⁰·⁵)", "values": [2, 4, 6, 8, 10, 12, 14, 16], "domain": false, "tickSize": -4, "labelPadding": 6, "titlePadding": 2, "labelOverlap": false}},
                "y": {"field": "q", "type": "quantitative", "scale": {"domain": [1.5, 10.31], "nice": false, "zero": false}, "axis": {"orient": "left", "title": "qₜ (mg/g)", "values": [2, 3, 4, 5, 6, 7, 8, 9, 10], "domain": false, "tickSize": -4, "labelPadding": 7, "titlePadding": 5, "labelOverlap": false}}
              },
              "layer": [
                {"data": {"name": "ipdfit"}, "transform": [{"filter": "datum.m == 'Pb' && datum.key == 'Step I (10 mg/L)'"}], "mark": {"type": "line", "strokeWidth": 1.5},
                  "encoding": {
                    "color": {"field": "key", "type": "nominal",
                      "scale": {"domain": ["Step I (10 mg/L)", "Step I (15 mg/L)", "Step I (20 mg/L)", "Step II (10 mg/L)", "Step II (15 mg/L)", "Step II (20 mg/L)"], "range": ["#000000", "#ff0000", "#0000ff", "#000000", "#ff0000", "#0000ff"]},
                      "legend": {"orient": "none", "legendX": 273.3, "legendY": 136.7, "title": null, "padding": 0, "labelFontSize": 7.6, "clipHeight": 8, "rowPadding": 1.7, "labelOffset": 2.3, "symbolType": "stroke", "symbolSize": 144, "symbolStrokeWidth": 1.5}},
                    "strokeDash": {"field": "key", "type": "nominal",
                      "scale": {"domain": ["Step I (10 mg/L)", "Step I (15 mg/L)", "Step I (20 mg/L)", "Step II (10 mg/L)", "Step II (15 mg/L)", "Step II (20 mg/L)"], "range": [[1.5, 3], [1.5, 3], [1.5, 3], [1, 0], [1, 0], [1, 0]]},
                      "legend": {"orient": "none", "legendX": 273.3, "legendY": 136.7, "title": null, "padding": 0, "labelFontSize": 7.6, "clipHeight": 8, "rowPadding": 1.7, "labelOffset": 2.3, "symbolType": "stroke", "symbolSize": 144, "symbolStrokeWidth": 1.5}}}},
                {"data": {"name": "ipdfit"}, "transform": [{"filter": "datum.m == 'Pb' && datum.key == 'Step II (10 mg/L)'"}], "mark": {"type": "line", "strokeWidth": 1.3}, "encoding": {"color": {"field": "key", "type": "nominal"}, "strokeDash": {"field": "key", "type": "nominal"}}},
                {"data": {"name": "kin"}, "transform": [{"filter": "datum.m == 'Pb' && datum.c == '10'"}], "mark": {"type": "point", "filled": true, "size": 64, "opacity": 1, "strokeWidth": 0},
                  "encoding": {"fill": {"field": "c", "type": "nominal", "scale": {"domain": ["10", "15", "20"], "range": ["#000000", "#ff0000", "#0000ff"]},
                    "legend": {"orient": "none", "legendX": 275.6, "legendY": 107.4, "title": null, "padding": 0, "labelFontSize": 7.6, "clipHeight": 8, "rowPadding": 1.7, "labelOffset": 6, "symbolType": "circle", "symbolSize": 56, "labelExpr": "datum.label + ' mg/L'"}}}},
                {"data": {"name": "kin"}, "transform": [{"filter": "datum.m == 'Pb' && datum.c == '10'"}], "mark": {"type": "point", "filled": true, "size": 64, "opacity": 1, "strokeWidth": 0, "fill": {"gradient": "radial", "x1": 0.35, "y1": 0.3, "r1": 0, "x2": 0.5, "y2": 0.5, "r2": 0.55, "stops": [{"offset": 0, "color": "#ffffff"}, {"offset": 0.22, "color": "#7a7a7a"}, {"offset": 0.5, "color": "#121212"}, {"offset": 1, "color": "#000000"}]}}}
              ]
            },
            {"data": {"values": [{}]}, "mark": {"type": "text", "text": "(e)", "fontSize": 11}, "encoding": {"x": {"datum": 2.92}, "y": {"datum": 9.69}}},
            {"data": {"values": [{}]}, "mark": {"type": "text", "text": "Pb(II)", "fontSize": 12}, "encoding": {"x": {"datum": 14.02}, "y": {"datum": 6.96}}},
            {"data": {"values": [{}]}, "mark": {"type": "text", "text": "Intraparticle diffusion", "fontSize": 12}, "encoding": {"x": {"datum": 14.22}, "y": {"datum": 6.48}}}
          ]
        },
        {
          "encoding": {
            "x": {"field": "r", "type": "quantitative"},
            "y": {"field": "q", "type": "quantitative", "scale": {"domain": [1.0, 16.55], "nice": false, "zero": false}, "axis": {"orient": "left", "offset": -188, "title": null, "values": [2, 4, 6, 8, 10, 12, 14, 16], "domain": true, "domainColor": "#ff0000", "domainWidth": 1.2, "tickColor": "#ff0000", "labelColor": "#ff0000", "tickSize": -4, "labelPadding": 7, "labelOverlap": false}}
          },
          "layer": [
            {"data": {"name": "ipdfit"}, "transform": [{"filter": "datum.m == 'Pb' && datum.key == 'Step I (15 mg/L)'"}], "mark": {"type": "line", "strokeWidth": 1.5}, "encoding": {"color": {"field": "key", "type": "nominal"}, "strokeDash": {"field": "key", "type": "nominal"}}},
            {"data": {"name": "ipdfit"}, "transform": [{"filter": "datum.m == 'Pb' && datum.key == 'Step II (15 mg/L)'"}], "mark": {"type": "line", "strokeWidth": 1.3}, "encoding": {"color": {"field": "key", "type": "nominal"}, "strokeDash": {"field": "key", "type": "nominal"}}},
            {"data": {"name": "kin"}, "transform": [{"filter": "datum.m == 'Pb' && datum.c == '15'"}], "mark": {"type": "point", "filled": true, "size": 64, "opacity": 1, "strokeWidth": 0, "fill": {"gradient": "radial", "x1": 0.35, "y1": 0.3, "r1": 0, "x2": 0.5, "y2": 0.5, "r2": 0.55, "stops": [{"offset": 0, "color": "#ffffff"}, {"offset": 0.2, "color": "#ff7070"}, {"offset": 0.5, "color": "#f20000"}, {"offset": 1, "color": "#a00000"}]}}}
          ]
        },
        {
          "encoding": {
            "x": {"field": "r", "type": "quantitative"},
            "y": {"field": "q", "type": "quantitative", "scale": {"domain": [8, 22.03], "nice": false, "zero": false}, "axis": {"orient": "right", "title": "qₜ (mg/g)", "values": [8, 10, 12, 14, 16, 18, 20], "domain": true, "domainColor": "#0000ff", "domainWidth": 1.2, "tickColor": "#0000ff", "labelColor": "#0000ff", "tickSize": -4, "labelPadding": 7, "titlePadding": 5, "labelOverlap": false}}
          },
          "layer": [
            {"data": {"name": "ipdfit"}, "transform": [{"filter": "datum.m == 'Pb' && datum.key == 'Step I (20 mg/L)'"}], "mark": {"type": "line", "strokeWidth": 1.5}, "encoding": {"color": {"field": "key", "type": "nominal"}, "strokeDash": {"field": "key", "type": "nominal"}}},
            {"data": {"name": "ipdfit"}, "transform": [{"filter": "datum.m == 'Pb' && datum.key == 'Step II (20 mg/L)'"}], "mark": {"type": "line", "strokeWidth": 1.3}, "encoding": {"color": {"field": "key", "type": "nominal"}, "strokeDash": {"field": "key", "type": "nominal"}}},
            {"data": {"name": "kin"}, "transform": [{"filter": "datum.m == 'Pb' && datum.c == '20'"}], "mark": {"type": "point", "filled": true, "size": 64, "opacity": 1, "strokeWidth": 0, "fill": {"gradient": "radial", "x1": 0.35, "y1": 0.3, "r1": 0, "x2": 0.5, "y2": 0.5, "r2": 0.55, "stops": [{"offset": 0, "color": "#ffffff"}, {"offset": 0.2, "color": "#7070ff"}, {"offset": 0.5, "color": "#1414e6"}, {"offset": 1, "color": "#00008c"}]}}}
          ]
        }
      ]
    },
    {
      "width": 376, "height": 223,
      "resolve": {"scale": {"y": "independent"}},
      "layer": [
        {
          "layer": [
            {
              "encoding": {
                "x": {"field": "r", "type": "quantitative", "scale": {"domain": [2, 17], "nice": false, "zero": false}, "axis": {"orient": "bottom", "title": "t⁰·⁵ (min⁰·⁵)", "values": [2, 4, 6, 8, 10, 12, 14, 16], "domain": false, "tickSize": -4, "labelPadding": 6, "titlePadding": 2, "labelOverlap": false}},
                "y": {"field": "q", "type": "quantitative", "scale": {"domain": [9.553, 10.0225], "nice": false, "zero": false}, "axis": {"orient": "left", "title": "qₜ (mg/g)", "values": [9.6, 9.65, 9.7, 9.75, 9.8, 9.85, 9.9, 9.95, 10.0], "format": ".2f", "domain": false, "tickSize": -4, "labelPadding": 7, "titlePadding": 5, "labelOverlap": false}}
              },
              "layer": [
                {"data": {"name": "ipdfit"}, "transform": [{"filter": "datum.m == 'Cr' && datum.key == 'Step I (10 mg/L)'"}], "mark": {"type": "line", "strokeWidth": 1.5},
                  "encoding": {
                    "color": {"field": "key", "type": "nominal",
                      "scale": {"domain": ["Step I (10 mg/L)", "Step I (15 mg/L)", "Step I (20 mg/L)", "Step II (10 mg/L)", "Step II (15 mg/L)", "Step II (20 mg/L)"], "range": ["#000000", "#ff0000", "#0000ff", "#000000", "#ff0000", "#0000ff"]},
                      "legend": {"orient": "none", "legendX": 271, "legendY": 134.4, "title": null, "padding": 0, "labelFontSize": 7.6, "clipHeight": 8, "rowPadding": 1.7, "labelOffset": 1, "symbolType": "stroke", "symbolSize": 144, "symbolStrokeWidth": 1.5}},
                    "strokeDash": {"field": "key", "type": "nominal",
                      "scale": {"domain": ["Step I (10 mg/L)", "Step I (15 mg/L)", "Step I (20 mg/L)", "Step II (10 mg/L)", "Step II (15 mg/L)", "Step II (20 mg/L)"], "range": [[1.5, 3], [1.5, 3], [1.5, 3], [1, 0], [1, 0], [1, 0]]},
                      "legend": {"orient": "none", "legendX": 271, "legendY": 134.4, "title": null, "padding": 0, "labelFontSize": 7.6, "clipHeight": 8, "rowPadding": 1.7, "labelOffset": 1, "symbolType": "stroke", "symbolSize": 144, "symbolStrokeWidth": 1.5}}}},
                {"data": {"name": "ipdfit"}, "transform": [{"filter": "datum.m == 'Cr' && datum.key == 'Step II (10 mg/L)'"}], "mark": {"type": "line", "strokeWidth": 1.3}, "encoding": {"color": {"field": "key", "type": "nominal"}, "strokeDash": {"field": "key", "type": "nominal"}}},
                {"data": {"name": "kin"}, "transform": [{"filter": "datum.m == 'Cr' && datum.c == '10'"}], "mark": {"type": "point", "filled": true, "size": 64, "opacity": 1, "strokeWidth": 0},
                  "encoding": {"fill": {"field": "c", "type": "nominal", "scale": {"domain": ["10", "15", "20"], "range": ["#000000", "#ff0000", "#0000ff"]},
                    "legend": {"orient": "none", "legendX": 272, "legendY": 105, "title": null, "padding": 0, "labelFontSize": 7.6, "clipHeight": 8, "rowPadding": 1.7, "labelOffset": 6, "symbolType": "circle", "symbolSize": 56, "labelExpr": "datum.label + ' mg/L'"}}}},
                {"data": {"name": "kin"}, "transform": [{"filter": "datum.m == 'Cr' && datum.c == '10'"}], "mark": {"type": "point", "filled": true, "size": 64, "opacity": 1, "strokeWidth": 0, "fill": {"gradient": "radial", "x1": 0.35, "y1": 0.3, "r1": 0, "x2": 0.5, "y2": 0.5, "r2": 0.55, "stops": [{"offset": 0, "color": "#ffffff"}, {"offset": 0.22, "color": "#7a7a7a"}, {"offset": 0.5, "color": "#121212"}, {"offset": 1, "color": "#000000"}]}}}
              ]
            },
            {"data": {"values": [{}]}, "mark": {"type": "text", "text": "(f)", "fontSize": 11}, "encoding": {"x": {"datum": 2.9}, "y": {"datum": 9.9895}}},
            {"data": {"values": [{}]}, "mark": {"type": "text", "text": "Cr(VI)", "fontSize": 12}, "encoding": {"x": {"datum": 13.94}, "y": {"datum": 9.8436}}},
            {"data": {"values": [{}]}, "mark": {"type": "text", "text": "Intraparticle diffusion", "fontSize": 12}, "encoding": {"x": {"datum": 14.07}, "y": {"datum": 9.8175}}}
          ]
        },
        {
          "encoding": {
            "x": {"field": "r", "type": "quantitative"},
            "y": {"field": "q", "type": "quantitative", "scale": {"domain": [14.518, 14.97], "nice": false, "zero": false}, "axis": {"orient": "left", "offset": -187.7, "title": null, "values": [14.55, 14.6, 14.65, 14.7, 14.75, 14.8, 14.85, 14.9, 14.95], "format": ".2f", "domain": true, "domainColor": "#ff0000", "domainWidth": 1.2, "tickColor": "#ff0000", "labelColor": "#ff0000", "tickSize": -4, "labelPadding": 7, "labelOverlap": false}}
          },
          "layer": [
            {"data": {"name": "ipdfit"}, "transform": [{"filter": "datum.m == 'Cr' && datum.key == 'Step I (15 mg/L)'"}], "mark": {"type": "line", "strokeWidth": 1.5}, "encoding": {"color": {"field": "key", "type": "nominal"}, "strokeDash": {"field": "key", "type": "nominal"}}},
            {"data": {"name": "ipdfit"}, "transform": [{"filter": "datum.m == 'Cr' && datum.key == 'Step II (15 mg/L)'"}], "mark": {"type": "line", "strokeWidth": 1.3}, "encoding": {"color": {"field": "key", "type": "nominal"}, "strokeDash": {"field": "key", "type": "nominal"}}},
            {"data": {"name": "kin"}, "transform": [{"filter": "datum.m == 'Cr' && datum.c == '15'"}], "mark": {"type": "point", "filled": true, "size": 64, "opacity": 1, "strokeWidth": 0, "fill": {"gradient": "radial", "x1": 0.35, "y1": 0.3, "r1": 0, "x2": 0.5, "y2": 0.5, "r2": 0.55, "stops": [{"offset": 0, "color": "#ffffff"}, {"offset": 0.2, "color": "#ff7070"}, {"offset": 0.5, "color": "#f20000"}, {"offset": 1, "color": "#a00000"}]}}}
          ]
        },
        {
          "encoding": {
            "x": {"field": "r", "type": "quantitative"},
            "y": {"field": "q", "type": "quantitative", "scale": {"domain": [19.09, 20.09], "nice": false, "zero": false}, "axis": {"orient": "right", "title": "qₜ (mg/g)", "values": [19.1, 19.2, 19.3, 19.4, 19.5, 19.6, 19.7, 19.8, 19.9, 20.0], "format": ".1f", "domain": true, "domainColor": "#0000ff", "domainWidth": 1.2, "tickColor": "#0000ff", "labelColor": "#0000ff", "tickSize": -4, "labelPadding": 7, "titlePadding": 5, "labelOverlap": false}}
          },
          "layer": [
            {"data": {"name": "ipdfit"}, "transform": [{"filter": "datum.m == 'Cr' && datum.key == 'Step I (20 mg/L)'"}], "mark": {"type": "line", "strokeWidth": 1.5}, "encoding": {"color": {"field": "key", "type": "nominal"}, "strokeDash": {"field": "key", "type": "nominal"}}},
            {"data": {"name": "ipdfit"}, "transform": [{"filter": "datum.m == 'Cr' && datum.key == 'Step II (20 mg/L)'"}], "mark": {"type": "line", "strokeWidth": 1.3}, "encoding": {"color": {"field": "key", "type": "nominal"}, "strokeDash": {"field": "key", "type": "nominal"}}},
            {"data": {"name": "kin"}, "transform": [{"filter": "datum.m == 'Cr' && datum.c == '20'"}], "mark": {"type": "point", "filled": true, "size": 64, "opacity": 1, "strokeWidth": 0, "fill": {"gradient": "radial", "x1": 0.35, "y1": 0.3, "r1": 0, "x2": 0.5, "y2": 0.5, "r2": 0.55, "stops": [{"offset": 0, "color": "#ffffff"}, {"offset": 0.2, "color": "#7070ff"}, {"offset": 0.5, "color": "#1414e6"}, {"offset": 1, "color": "#00008c"}]}}}
          ]
        }
      ]
    }
  ]
}
